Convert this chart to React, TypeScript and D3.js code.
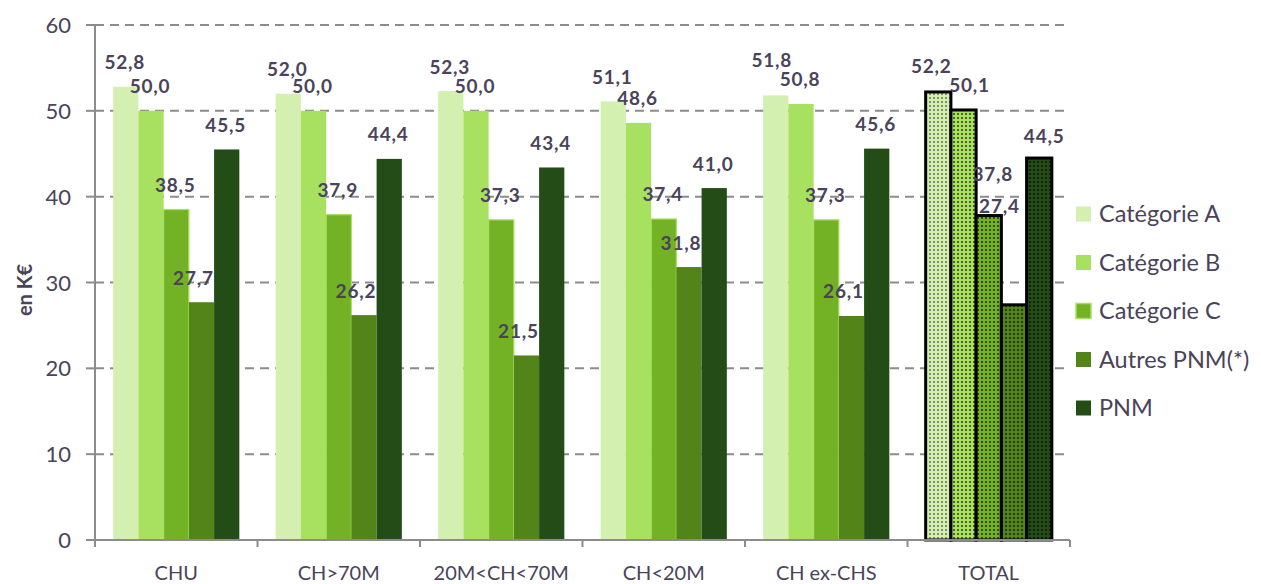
import React from 'react';
import * as d3 from 'd3';

const groups = ['CHU', 'CH>70M', '20M<CH<70M', 'CH<20M', 'CH ex-CHS', 'TOTAL'];
const series = ['Catégorie A', 'Catégorie B', 'Catégorie C', 'Autres PNM(*)', 'PNM'];
const catA = [52.8, 52.0, 52.3, 51.1, 51.8, 52.2];
const catB = [50.0, 50.0, 50.0, 48.6, 50.8, 50.1];
const catC = [38.5, 37.9, 37.3, 37.4, 37.3, 37.8];
const autres = [27.7, 26.2, 21.5, 31.8, 26.1, 27.4];
const pnm = [45.5, 44.4, 43.4, 41.0, 45.6, 44.5];
const yTicks = [0, 10, 20, 30, 40, 50, 60];
const colors = ['#d3f0b0', '#a8e05f', '#72b224', '#528419', '#234c17'];

const values = [catA, catB, catC, autres, pnm];

const W = 1261;
const H = 584;
const TXT = '#4a4359';
const FONT = 'Lato, "Open Sans", sans-serif';

// Excel moved a few labels around
const nudge: Record<string, [number, number]> = {
  'CH ex-CHS|Catégorie A': [-3, -11],
  'TOTAL|Catégorie A': [-6, -1.5],
  'TOTAL|Catégorie B': [7, 0],
  'TOTAL|Catégorie C': [5, -17.5],
  'TOTAL|Autres PNM(*)': [-6.5, -74.5],
  'TOTAL|PNM': [6, 2.5],
};

export default function App() {
  const x = d3.scaleBand<string>().domain(groups).range([95, 1070]);
  const xi = d3.scaleBand<string>().domain(series).range([0, x.bandwidth()]).paddingOuter(0.72);
  const y = d3.scaleLinear().domain([0, 60]).range([540, 25]);
  const fmt = (v: number) => v.toFixed(1).replace('.', ',');

  return (
    <svg width={W} height={H} style={{ position: 'absolute', left: 0, top: 0, background: '#fff' }}>
      <defs>
        {colors.map((c, i) => (
          <pattern key={i} id={`dots${i}`} width={4} height={4} patternUnits="userSpaceOnUse">
            <rect width={4} height={4} fill={c} />
            <rect x={1} y={1} width={2} height={2} fill="#000" opacity={i === 0 ? 0.4 : 0.55} />
          </pattern>
        ))}
      </defs>

      {/* grid */}
      {yTicks.filter(t => t > 0).map(t => (
        <line key={t} x1={95} x2={1070} y1={y(t)} y2={y(t)} stroke="#8c8c8c" strokeWidth={2} strokeDasharray="9,6" />
      ))}

      {/* bars */}
      {groups.map((g, gi) =>
        series.map((s, si) => {
          const v = values[si][gi];
          const total = g === 'TOTAL';
          const bx = (x(g) as number) + (xi(s) as number);
          return (
            <rect
              key={g + s}
              x={bx}
              y={y(v)}
              width={xi.bandwidth()}
              height={y(0) - y(v)}
              fill={total ? `url(#dots${si})` : colors[si]}
              stroke={total ? '#000' : si === 2 ? '#a8e05f' : 'none'}
              strokeWidth={total ? 3 : 1.2}
            />
          );
        })
      )}

      {/* axes */}
      <line x1={95} x2={95} y1={25} y2={540} stroke="#8c8c8c" strokeWidth={2} />
      <line x1={95} x2={1070} y1={540} y2={540} stroke="#8c8c8c" strokeWidth={2} />
      {yTicks.map(t => (
        <g key={t}>
          <line x1={86} x2={95} y1={y(t)} y2={y(t)} stroke="#8c8c8c" strokeWidth={2} />
          <text x={71} y={y(t) + 8} textAnchor="end" fontSize={22} fill={TXT} fontFamily={FONT}>{t}</text>
        </g>
      ))}
      {groups.map(g => (
        <line key={g} x1={x(g)} x2={x(g)} y1={540} y2={547} stroke="#8c8c8c" strokeWidth={2} />
      ))}
      <line x1={1070} x2={1070} y1={540} y2={547} stroke="#8c8c8c" strokeWidth={2} />
      {groups.map(g => (
        <text key={g} x={(x(g) as number) + x.bandwidth() / 2} y={580} textAnchor="middle" fontSize={20} fill={TXT} fontFamily={FONT}>{g}</text>
      ))}
      <text transform="translate(32,290) rotate(-90)" textAnchor="middle" fontSize={20} fontWeight="bold" fill={TXT} fontFamily={FONT}>en K€</text>

      {/* value labels */}
      {groups.map((g, gi) =>
        series.map((s, si) => {
          const v = values[si][gi];
          const [dx, dy] = nudge[`${g}|${s}`] || [0, 0];
          const cx = (x(g) as number) + (xi(s) as number) + xi.bandwidth() / 2;
          const shift = si === 3 ? -8 : -1;
          return (
            <text key={'l' + g + s} x={cx + shift + dx} y={y(v) - 17.5 + dy} textAnchor="middle" fontSize={19} letterSpacing={0.8} fontWeight="bold" fill={TXT} fontFamily={FONT}>
              {fmt(v)}
            </text>
          );
        })
      )}

      {/* legend */}
      {series.map((s, i) => (
        <g key={s} transform={`translate(1076,${214 + i * 48.5})`}>
          <rect x={0} y={-7.5} width={15} height={15} fill={colors[i]} stroke={i === 2 ? '#a8e05f' : 'none'} strokeWidth={1.5} />
          <text x={23} y={8} fontSize={23.5} fill={TXT} fontFamily={FONT}>{s}</text>
        </g>
      ))}
    </svg>
  );
}
